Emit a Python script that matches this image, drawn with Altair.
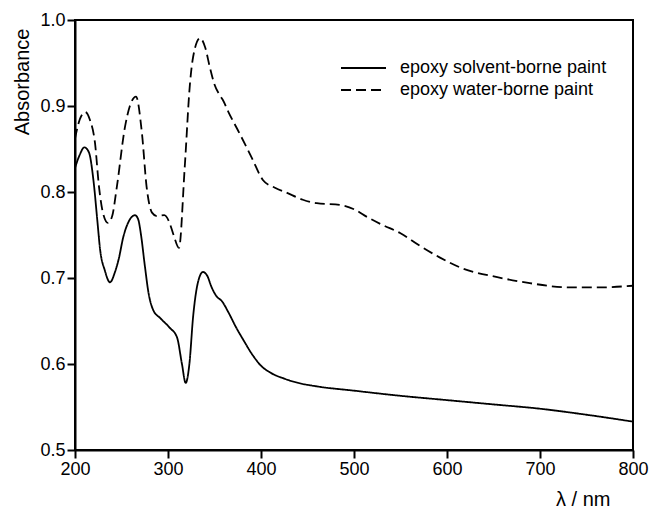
import altair as alt
import pandas as pd

# Wavelength (nm) and absorbance for the solvent-borne coating
solvent_nm = [200, 205, 210, 215, 220, 224, 227, 232, 237.6, 243, 247, 252, 257, 261,
              264.5, 268, 271, 275, 279, 284, 292, 302, 309.7, 315, 319, 323, 327, 332,
              337.6, 342, 347, 352, 358, 365, 373, 381, 390, 400, 410, 425, 440,
              460, 500, 550, 600, 650, 700, 750, 800]
solvent_abs = [0.828, 0.843, 0.852, 0.846, 0.812, 0.767, 0.733, 0.709, 0.695, 0.707,
               0.722, 0.748, 0.764, 0.771, 0.773, 0.768, 0.750, 0.715, 0.683, 0.663,
               0.653, 0.642, 0.631, 0.600, 0.578, 0.600, 0.655, 0.694, 0.707, 0.703,
               0.689, 0.679, 0.673, 0.660, 0.643, 0.628, 0.612, 0.598, 0.590, 0.583,
               0.578, 0.574, 0.569, 0.563, 0.558, 0.553, 0.548, 0.541, 0.533]

# Wavelength (nm) and absorbance for the water-borne coating
water_nm = [200, 205, 211, 216, 221.5, 225.8, 230, 235.5, 240, 245, 253.8, 259, 265.6,
            272, 277, 282.8, 288, 296, 301, 306, 311.8, 318, 323.7, 327, 334.4, 340,
            345, 350, 356, 359, 365, 377, 390, 402, 415, 428, 445, 460, 485, 500, 514,
            530, 550, 570, 592, 617, 654, 689, 732, 761, 800]
water_abs = [0.862, 0.884, 0.893, 0.884, 0.857, 0.806, 0.776, 0.764, 0.772, 0.806,
             0.876, 0.900, 0.911, 0.868, 0.806, 0.776, 0.772, 0.773, 0.766, 0.750,
             0.735, 0.829, 0.927, 0.957, 0.979, 0.968, 0.945, 0.925, 0.912, 0.907,
             0.893, 0.868, 0.840, 0.814, 0.805, 0.799, 0.791, 0.787, 0.785, 0.780,
             0.771, 0.762, 0.752, 0.738, 0.724, 0.711, 0.701, 0.694, 0.689, 0.689, 0.691]

# Axis tick values
x_ticks = [200, 300, 400, 500, 600, 700, 800]
y_ticks = [0.5, 0.6, 0.7, 0.8, 0.9, 1.0]

series_names = ["epoxy solvent-borne paint", "epoxy water-borne paint"]

df = pd.concat([
    pd.DataFrame({"nm": solvent_nm, "abs": solvent_abs, "paint": series_names[0]}),
    pd.DataFrame({"nm": water_nm, "abs": water_abs, "paint": series_names[1]}),
])

FONT = "Liberation Sans"

chart = alt.Chart(df).mark_line(
    interpolate="monotone", color="black", strokeWidth=1.8
).encode(
    x=alt.X("nm:Q", scale=alt.Scale(domain=[200, 800], nice=False),
            axis=alt.Axis(values=x_ticks, format="d", labelFlush=False,
                          ticks=True, tickColor="black", tickSize=8, tickWidth=2,
                          title="λ / nm", titleX=535, titleY=55,
                          titleAlign="right", titleBaseline="alphabetic")),
    y=alt.Y("abs:Q", scale=alt.Scale(domain=[0.5, 1.0], nice=False, zero=False),
            axis=alt.Axis(values=y_ticks, format=".1f", labelFlush=False,
                          ticks=True, tickColor="black", tickSize=8, tickWidth=2,
                          title="Absorbance", titleX=-47, titleY=8,
                          titleAlign="right", titleBaseline="alphabetic", titleAngle=-90)),
    strokeDash=alt.StrokeDash(
        "paint:N",
        scale=alt.Scale(domain=series_names, range=[[1, 0], [10, 5]]),
        legend=alt.Legend(title=None, orient="none", legendX=265, legendY=39,
                          symbolType="stroke", symbolSize=2025, symbolStrokeWidth=1.8,
                          symbolStrokeColor="black", labelFontSize=18, labelFont=FONT,
                          labelColor="black", labelOffset=13, labelLimit=400,
                          clipHeight=18, rowPadding=4),
    ),
).properties(
    width=558,
    height=430,
    autosize=alt.AutoSizeParams(type="none"),
    padding={"left": 75, "top": 20, "right": 17, "bottom": 58},
).configure_view(
    stroke="black", strokeWidth=2
).configure_axis(
    grid=False, domainColor="black", domainWidth=2,
    labelFont=FONT, labelFontSize=18, labelColor="black",
    labelPadding=2, titleFont=FONT, titleFontSize=20, titleFontWeight="normal",
    titleColor="black",
)

chart.save("out.html", embed_options={"renderer": "svg", "actions": False})
